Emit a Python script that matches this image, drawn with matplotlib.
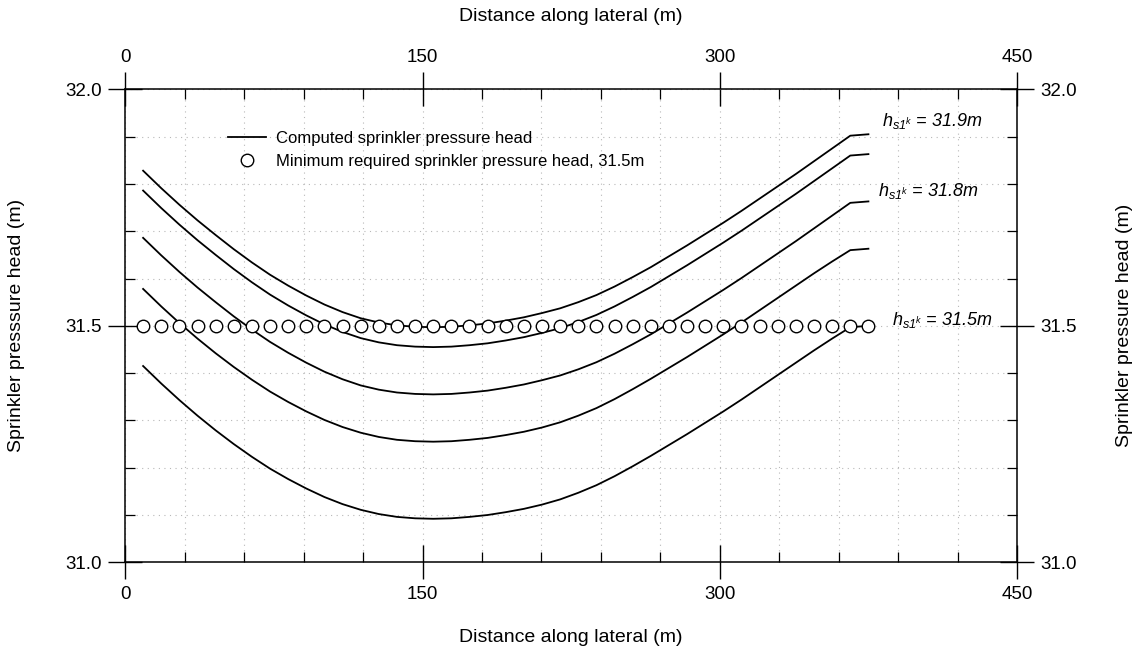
import matplotlib
matplotlib.use('Agg')
import matplotlib.pyplot as plt
from matplotlib.ticker import MultipleLocator, FormatStrFormatter

# sprinkler positions along the lateral (m)
distance = [9.0, 18.15, 27.3, 36.45, 45.6, 54.75, 63.9, 73.05, 82.2, 91.35,
            100.5, 109.65, 118.8, 127.95, 137.1, 146.25, 155.4, 164.55, 173.7, 182.85,
            192.0, 201.15, 210.3, 219.45, 228.6, 237.75, 246.9, 256.05, 265.2, 274.35,
            283.5, 292.65, 301.8, 310.95, 320.1, 329.25, 338.4, 347.55, 356.7, 365.85,
            375.0]

# computed sprinkler pressure head (m), one list per inlet condition
head_1 = [31.828, 31.791, 31.756, 31.723, 31.692, 31.662, 31.634, 31.608, 31.585, 31.564,
          31.545, 31.529, 31.516, 31.507, 31.501, 31.498, 31.497, 31.498, 31.501, 31.505,
          31.511, 31.518, 31.527, 31.537, 31.550, 31.565, 31.583, 31.603, 31.624, 31.647,
          31.670, 31.694, 31.718, 31.743, 31.769, 31.795, 31.821, 31.848, 31.875, 31.902,
          31.905]
head_2 = [31.786, 31.749, 31.714, 31.681, 31.650, 31.620, 31.592, 31.566, 31.543, 31.522,
          31.503, 31.487, 31.474, 31.465, 31.459, 31.456, 31.455, 31.456, 31.459, 31.463,
          31.469, 31.476, 31.485, 31.495, 31.508, 31.523, 31.541, 31.561, 31.582, 31.605,
          31.628, 31.652, 31.676, 31.701, 31.727, 31.753, 31.779, 31.806, 31.833, 31.860,
          31.863]
head_3 = [31.686, 31.649, 31.614, 31.581, 31.550, 31.520, 31.492, 31.466, 31.443, 31.422,
          31.403, 31.387, 31.374, 31.365, 31.359, 31.356, 31.355, 31.356, 31.359, 31.363,
          31.369, 31.376, 31.385, 31.395, 31.408, 31.423, 31.441, 31.461, 31.482, 31.505,
          31.528, 31.552, 31.576, 31.601, 31.627, 31.653, 31.679, 31.706, 31.733, 31.760,
          31.763]
head_4 = [31.578, 31.541, 31.506, 31.473, 31.442, 31.413, 31.386, 31.361, 31.339, 31.319,
          31.301, 31.286, 31.274, 31.265, 31.259, 31.256, 31.255, 31.256, 31.259, 31.263,
          31.269, 31.276, 31.285, 31.296, 31.310, 31.326, 31.345, 31.366, 31.388, 31.411,
          31.434, 31.458, 31.482, 31.507, 31.533, 31.559, 31.585, 31.611, 31.636, 31.660,
          31.663]
head_5 = [31.415, 31.378, 31.343, 31.310, 31.279, 31.250, 31.223, 31.198, 31.176, 31.156,
          31.138, 31.123, 31.111, 31.102, 31.096, 31.093, 31.092, 31.093, 31.096, 31.100,
          31.106, 31.113, 31.122, 31.133, 31.147, 31.163, 31.182, 31.203, 31.225, 31.248,
          31.271, 31.295, 31.319, 31.344, 31.370, 31.396, 31.422, 31.448, 31.473, 31.497,
          31.500]

min_head = 31.5
min_required = [min_head] * len(distance)

labels = [
    (382, 31.932, r'h$_{\mathit{s1}^{k}}$ = 31.9m'),
    (380, 31.786, r'h$_{\mathit{s1}^{k}}$ = 31.8m'),
    (387, 31.513, r'h$_{\mathit{s1}^{k}}$ = 31.5m'),
]

plt.rcParams['font.family'] = 'Liberation Sans'
plt.rcParams['mathtext.fontset'] = 'custom'
plt.rcParams['mathtext.it'] = 'Liberation Sans:italic'
plt.rcParams['mathtext.rm'] = 'Liberation Sans:italic'
plt.rcParams['mathtext.bf'] = 'Liberation Sans:bold'

fig = plt.figure(figsize=(11.43, 6.53), dpi=100)
ax = fig.add_axes([0.1096, 0.1389, 0.7802, 0.7243])

first = True
for heads in [head_1, head_2, head_3, head_4, head_5]:
    ax.plot(distance, heads, color='black', lw=1.3,
            label='Computed sprinkler pressure head' if first else None)
    first = False
ax.plot(distance, min_required, 'o', ms=9, mfc='white', mec='black', mew=1.0, zorder=5,
        label='Minimum required sprinkler pressure head, 31.5m')

for x, y, s in labels:
    ax.text(x, y, s, fontsize=13, style='italic', va='center', ha='left')

ax.set_xlim(0, 450)
ax.set_ylim(31.0, 32.0)
ax.xaxis.set_major_locator(MultipleLocator(150))
ax.xaxis.set_minor_locator(MultipleLocator(30))
ax.yaxis.set_major_locator(MultipleLocator(0.5))
ax.yaxis.set_minor_locator(MultipleLocator(0.1))
ax.yaxis.set_major_formatter(FormatStrFormatter('%.1f'))

ax.grid(which='both', ls=(0, (1, 4)), color='#b8b8b8', lw=0.8)
ax.set_axisbelow(True)

ax.tick_params(which='major', direction='inout', length=24, width=1.0,
               top=True, right=True, labeltop=True, labelright=True,
               labelsize=13.5, pad=5)
ax.tick_params(which='minor', direction='in', length=7, width=0.9, top=True, right=True)
for sp in ax.spines.values():
    sp.set_linewidth(1.1)

ax.set_xlabel('Distance along lateral (m)', fontsize=14, va='center')
ax.xaxis.set_label_coords(0.5, -0.158)
ax.set_ylabel('Sprinkler presssure head (m)', fontsize=14, va='center')
ax.yaxis.set_label_coords(-0.1215, 0.5)
ax.text(0.5, 1.153, 'Distance along lateral (m)', fontsize=14, ha='center', va='center',
        transform=ax.transAxes)
ax.text(1.121, 0.5, 'Sprinkler pressure head (m)', fontsize=14, ha='center', va='center',
        rotation=90, transform=ax.transAxes)

ax.legend(loc='center left', bbox_to_anchor=(0.1152, 0.872), frameon=False, fontsize=12,
          handlelength=2.3, handletextpad=0.6, borderpad=0, borderaxespad=0,
          labelspacing=0.5, numpoints=1)

fig.savefig('out.png', dpi=100)
